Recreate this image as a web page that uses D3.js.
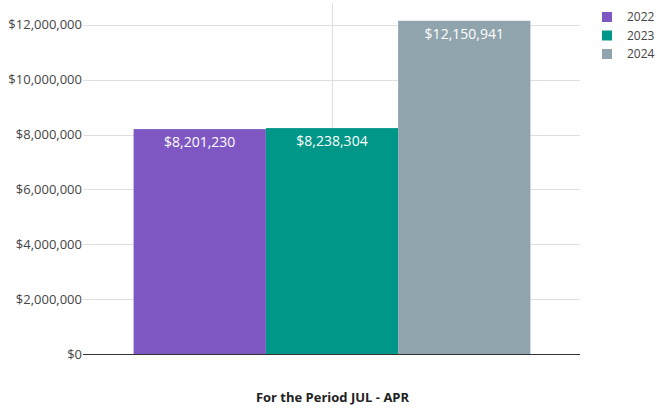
<!DOCTYPE html>
<html>
<head>
<meta charset="utf-8">
<script src="https://cdn.jsdelivr.net/npm/d3@7"></script>
<style>
  body { margin: 0; background: #fff; }
  svg { font-family: "Open Sans", sans-serif; display: block; }
</style>
</head>
<body>
<div id="chart"></div>
<script>
// Chart values.
const years = ["2022", "2023", "2024"];
const totals = [8201230, 8238304, 12150941];
const colors = ["#7e57c2", "#009688", "#90a4ae"];
const yTicks = [0, 2000000, 4000000, 6000000, 8000000, 10000000, 12000000];
const periodLabel = "For the Period JUL - APR";

const width = 657, height = 409;
const marginLeft = 84, marginRight = 77, marginTop = 3, marginBottom = 55;

const svg = d3.select("#chart").append("svg")
    .attr("width", width)
    .attr("height", height);

const y = d3.scaleLinear()
    .domain([0, 12800000])
    .range([height - marginBottom, marginTop]);

// Outer band for the single category, inner band for the years.
const x = d3.scaleBand()
    .domain([periodLabel])
    .range([marginLeft, width - marginRight])
    .paddingInner(0)
    .paddingOuter(0.125);

const xYear = d3.scaleBand()
    .domain(years)
    .range([0, x.bandwidth()]);

const fmt = d3.format("$,");

// Horizontal gridlines and tick labels.
const grid = svg.append("g");
grid.selectAll("line")
    .data(yTicks.filter(d => d > 0))
    .join("line")
    .attr("x1", marginLeft - 1)
    .attr("x2", width - marginRight)
    .attr("y1", d => Math.round(y(d)) + 0.5)
    .attr("y2", d => Math.round(y(d)) + 0.5)
    .attr("stroke", "#e0e0e0");

grid.selectAll("text")
    .data(yTicks)
    .join("text")
    .attr("x", marginLeft - 2)
    .attr("y", d => y(d))
    .attr("dy", "0.35em")
    .attr("text-anchor", "end")
    .attr("font-size", 13)
    .attr("fill", "#444")
    .text(d => fmt(d));

// Vertical gridline at the category centre.
const cx = Math.round(x(periodLabel) + x.bandwidth() / 2) + 0.5;
svg.append("line")
    .attr("x1", cx).attr("x2", cx)
    .attr("y1", marginTop).attr("y2", height - marginBottom)
    .attr("stroke", "#e0e0e0");

// Bars.
const bars = svg.append("g")
    .attr("transform", `translate(${x(periodLabel)},0)`);

bars.selectAll("rect")
    .data(years)
    .join("rect")
    .attr("x", d => xYear(d))
    .attr("y", (d, i) => y(totals[i]))
    .attr("width", xYear.bandwidth())
    .attr("height", (d, i) => y(0) - y(totals[i]))
    .attr("fill", (d, i) => colors[i]);

bars.selectAll("text")
    .data(years)
    .join("text")
    .attr("x", d => xYear(d) + xYear.bandwidth() / 2)
    .attr("y", (d, i) => y(totals[i]) + 18)
    .attr("text-anchor", "middle")
    .attr("font-size", 14)
    .attr("fill", "#fff")
    .text((d, i) => fmt(totals[i]));

// Zero baseline.
svg.append("line")
    .attr("x1", marginLeft - 1)
    .attr("x2", width - marginRight)
    .attr("y1", Math.round(y(0)) + 0.5)
    .attr("y2", Math.round(y(0)) + 0.5)
    .attr("stroke", "#333");

// Axis title.
svg.append("text")
    .attr("x", cx)
    .attr("y", 402)
    .attr("text-anchor", "middle")
    .attr("font-size", 13)
    .attr("font-weight", "bold")
    .attr("fill", "#222")
    .text(periodLabel);

// Legend.
const legend = svg.append("g")
    .attr("transform", "translate(602,12)");
const items = legend.selectAll("g")
    .data(years)
    .join("g")
    .attr("transform", (d, i) => `translate(0,${i * 18.5})`);
items.append("rect")
    .attr("width", 10)
    .attr("height", 10)
    .attr("fill", (d, i) => colors[i]);
items.append("text")
    .attr("x", 25)
    .attr("y", 5)
    .attr("dy", "0.35em")
    .attr("font-size", 12)
    .attr("fill", "#444")
    .text(d => d);
</script>
</body>
</html>
